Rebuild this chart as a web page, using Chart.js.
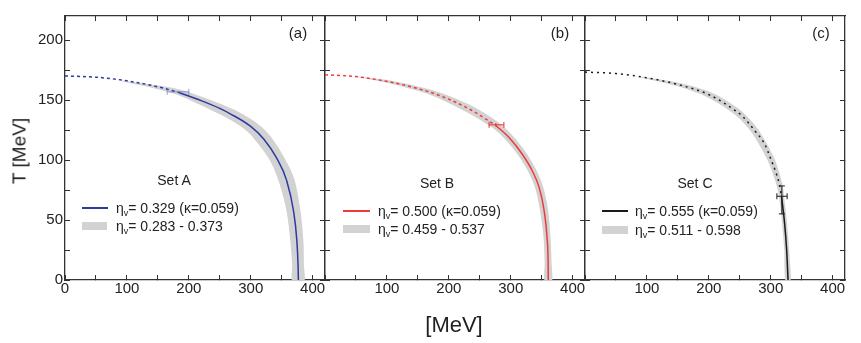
<!DOCTYPE html>
<html>
<head>
<meta charset="utf-8">
<script src="https://cdn.jsdelivr.net/npm/chart.js@4.4.1/dist/chart.umd.min.js"></script>
<style>
    body { margin: 0; background: #fff; font-family: "Liberation Sans", Arial, sans-serif; color: #222; }
    #wrap { position: relative; width: 861px; height: 343px; overflow: hidden; }
    #wrap canvas { position: absolute; left: 0; top: 0; }
    .t { position: absolute; white-space: nowrap; line-height: 1; }
    .c { transform: translate(-50%, -50%); }
    .l { transform: translateY(-50%); }
    .t sub { font-size: 9px; vertical-align: -3px; line-height: 0; }
    .sw { position: absolute; }
</style>
</head>
<body>
<div id="wrap">
    <canvas id="chartA" width="861" height="343"></canvas>
    <canvas id="chartB" width="861" height="343"></canvas>
    <canvas id="chartC" width="861" height="343"></canvas>

    <div class="t c" style="left:19px; top:151px; font-size:19px; transform:translate(-50%,-50%) rotate(-90deg);">T [MeV]</div>
    <div class="t c" style="left:454px; top:325px; font-size:22px;">[MeV]</div>

    <div class="t c" style="left:298px; top:32px; font-size:15px;">(a)</div>
    <div class="t c" style="left:560px; top:32px; font-size:15px;">(b)</div>
    <div class="t c" style="left:821px; top:32px; font-size:15px;">(c)</div>

    <div class="t c" style="left:174px; top:180px; font-size:14px;">Set A</div>
    <div class="sw" style="left:82px; top:207px; width:26px; height:2px; background:#2e3a9f;"></div>
    <div class="t l" style="left:116px; top:208px; font-size:14px;">η<sub>v</sub>= 0.329 (κ=0.059)</div>
    <div class="sw" style="left:82px; top:222px; width:25px; height:8px; background:#d2d2d2;"></div>
    <div class="t l" style="left:116px; top:226px; font-size:14px;">η<sub>v</sub>= 0.283 - 0.373</div>

    <div class="t c" style="left:437px; top:183px; font-size:14px;">Set B</div>
    <div class="sw" style="left:343px; top:210px; width:27px; height:2px; background:#f03a3a;"></div>
    <div class="t l" style="left:378px; top:211px; font-size:14px;">η<sub>v</sub>= 0.500 (κ=0.059)</div>
    <div class="sw" style="left:343px; top:225px; width:27px; height:8px; background:#d2d2d2;"></div>
    <div class="t l" style="left:378px; top:229px; font-size:14px;">η<sub>v</sub>= 0.459 - 0.537</div>

    <div class="t c" style="left:695px; top:183px; font-size:14px;">Set C</div>
    <div class="sw" style="left:602px; top:210px; width:26px; height:2px; background:#1a1a1a;"></div>
    <div class="t l" style="left:635px; top:211px; font-size:14px;">η<sub>v</sub>= 0.555 (κ=0.059)</div>
    <div class="sw" style="left:602px; top:226px; width:26px; height:8px; background:#d2d2d2;"></div>
    <div class="t l" style="left:635px; top:229.5px; font-size:14px;">η<sub>v</sub>= 0.511 - 0.598</div>
</div>

<script>
// --- DATA (mu_B [MeV], T [MeV]) ---
const xTicks = [0, 50, 100, 150, 200, 250, 300, 350, 400];
const xLabels = [0, 100, 200, 300, 400];
const yTicks = [0, 25, 50, 75, 100, 125, 150, 175, 200];
const yLabels = [0, 50, 100, 150, 200];

// Set A
const dashA = [[0, 170], [50, 169], [100, 166], [150, 161], [183, 156.5]];
const solidA = [[183, 156.5], [220, 149.5], [250, 143], [267, 138.5], [300, 128], [321, 117.5], [342, 101.5], [358, 83], [369, 58], [374.5, 33], [376.5, 12], [377, 0]];
const outerA = [[90, 166.2], [150, 162], [183, 159], [222, 152.6], [271, 142.5], [306, 132.2], [330, 121], [352, 104], [370, 84.8], [380, 59], [385, 33.5], [386, 12], [386, -2]];
const innerA = [[90, 165.8], [150, 159], [183, 154], [218, 146], [263, 134.5], [294, 124], [312, 113.5], [332, 98.7], [346, 81], [358, 57], [364, 32.5], [367, 12], [367.5, -2]];
const errA = [[165, 156.8], [200, 156.8]];

// Set B
const dashB = [[0, 171], [50, 169.5], [105, 165], [150, 159.5], [185, 153.8], [233, 142.5], [275.5, 129]];
const solidB = [[275.5, 129], [298, 118.3], [319, 104.6], [335, 90.8], [346, 77], [354, 57.8], [358.6, 35.7], [360.4, 15], [360.7, 0]];
const outerB = [[50, 169.7], [105, 166.2], [150, 161.3], [186.6, 156.1], [236.2, 145.4], [279.5, 131.6], [302.8, 120.5], [324.3, 106.5], [340.8, 92.2], [352.2, 77.9], [360.4, 58.3], [364.2, 35.7], [366, 15], [366.3, -2]];
const innerB = [[50, 169.3], [105, 163.8], [150, 157.7], [183.4, 151.5], [229.8, 139.6], [271.5, 126.4], [293.2, 116.1], [313.7, 102.7], [329.2, 89.3], [339.8, 76.1], [347.6, 57.3], [353, 35.7], [354.8, 15], [355.1, -2]];
const errB = [[265, 129.3], [289, 129.3]];
const errBv = [[276, 127.8], [276, 130.8]];

// Set C
const dashC = [[0, 173.3], [50, 172], [100, 168.5], [154, 162.4], [202, 154], [244.5, 140.5], [255, 136.2], [274, 124.5], [290, 113.5], [300.5, 100.4], [308.5, 89.4], [314, 79.8], [317.5, 69.6]];
const solidC = [[317.5, 69.6], [322, 49.5], [325.8, 24.8], [328, 0]];
const outerC = [[90, 169.6], [154, 164], [204, 156.3], [247.7, 142.9], [278.3, 126.4], [305.7, 101.5], [318.7, 80.4], [321.5, 70], [326, 49.5], [329.8, 24.8], [332, -2]];
const innerC = [[90, 168.8], [154, 160.8], [200, 151.7], [241.3, 138.1], [269.7, 122.6], [295.3, 99.3], [309.3, 79.2], [313.5, 69], [318, 49.5], [321.8, 24.8], [324, -2]];
const errC = [[310, 69.8], [326.5, 69.8]];
const errCv = [[318, 55.1], [318, 78.4]];

// --- STYLE ---
const AXIS = '#333';
const BAND = '#d2d2d2';
Chart.defaults.font.family = '"Liberation Sans", Arial, sans-serif';

function pts(arr) {
    return arr.map(p => ({ x: p[0], y: p[1] }));
}

// closed polygon: outer edge down, inner edge back up
function bandShape(outer, inner) {
    return pts(outer.concat(inner.slice().reverse()));
}

function tickScale(position, list, labels, fitSize) {
    const horizontal = position === 'top' || position === 'bottom';
    return {
        type: 'linear',
        position: position,
        min: 0,
        max: horizontal ? 420 : 220,
        afterBuildTicks: s => { s.ticks = list.map(v => ({ value: v })); },
        afterFit: s => { if (horizontal) s.height = fitSize; else s.width = fitSize; },
        ticks: {
            display: labels !== null,
            autoSkip: false,
            maxRotation: 0,
            padding: horizontal ? 5 : 7,
            color: '#222',
            font: { size: 15 },
            callback: v => (labels && labels.includes(v)) ? String(v) : ''
        },
        grid: { drawOnChartArea: false, drawTicks: true, tickLength: -5, color: AXIS, lineWidth: 1 },
        border: { display: true, color: AXIS, width: 1.3 }
    };
}

function errSet(arr, color, rot, r) {
    return {
        data: pts(arr), showLine: true, borderColor: color, borderWidth: 1,
        pointStyle: 'line', pointRadius: r, pointRotation: rot,
        pointBorderColor: color, pointBorderWidth: 1, order: 0
    };
}

function makePanel(id, pad, cfg) {
    const ds = [
        errSet(cfg.err, cfg.errColor, 90, 3),
        { data: pts(cfg.solid), showLine: true, borderColor: cfg.color, borderWidth: 1.5, pointRadius: 0,
          cubicInterpolationMode: 'monotone', order: 1 },
        { data: pts(cfg.dash), showLine: true, borderColor: cfg.color, borderWidth: 1.5, borderDash: cfg.dashPattern,
          pointRadius: 0, cubicInterpolationMode: 'monotone', order: 2 },
        { data: bandShape(cfg.outer, cfg.inner), showLine: true, fill: 'shape', backgroundColor: BAND,
          borderColor: 'rgba(0,0,0,0)', borderWidth: 1, pointRadius: 0, tension: 0.3, order: 5 }
    ];
    if (cfg.errV) ds.push(errSet(cfg.errV, cfg.errColor, 0, cfg.capV));

    new Chart(document.getElementById(id), {
        type: 'scatter',
        data: { datasets: ds },
        options: {
            responsive: false,
            animation: false,
            events: [],
            layout: { padding: pad },
            plugins: { legend: { display: false }, tooltip: { enabled: false } },
            scales: {
                x: tickScale('bottom', xTicks, cfg.xLab, 25),
                xTop: tickScale('top', xTicks, null, 0),
                y: tickScale('left', yTicks, cfg.yLab, cfg.yWidth),
                yRight: tickScale('right', yTicks, null, 0)
            }
        }
    });
}

// --- PANELS ---
makePanel('chartA', { left: 25, right: 536, top: 14, bottom: 38 }, {
    dash: dashA, solid: solidA, outer: outerA, inner: innerA, err: errA,
    color: '#2e3a9f', errColor: 'rgba(80,100,200,0.6)', dashPattern: [3, 3],
    xLab: xLabels, yLab: yLabels, yWidth: 40
});

makePanel('chartB', { left: 325, right: 276, top: 14, bottom: 38 }, {
    dash: dashB, solid: solidB, outer: outerB, inner: innerB, err: errB, errV: errBv, capV: 0,
    color: '#f03a3a', errColor: '#e83030', dashPattern: [3, 3],
    xLab: xLabels.filter(v => v !== 0), yLab: [], yWidth: 0
});

makePanel('chartC', { left: 585, right: 16, top: 14, bottom: 38 }, {
    dash: dashC, solid: solidC, outer: outerC, inner: innerC, err: errC, errV: errCv, capV: 3,
    color: '#1a1a1a', errColor: '#1a1a1a', dashPattern: [2, 4],
    xLab: xLabels.filter(v => v !== 0), yLab: [], yWidth: 0
});
</script>
</body>
</html>
